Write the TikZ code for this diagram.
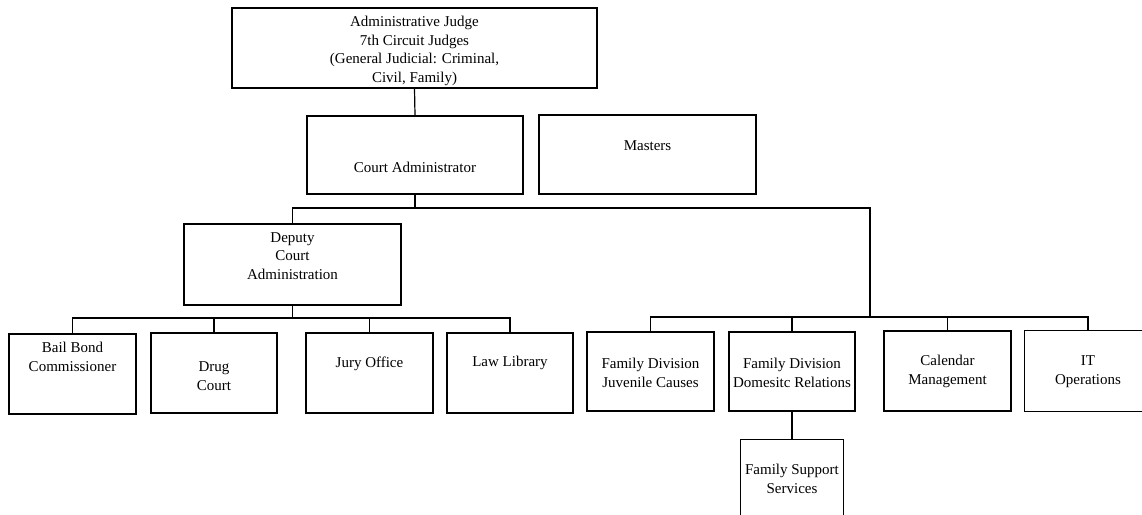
\documentclass[tikz,border=0pt]{standalone}
\usepackage{fontspec}
\setmainfont{Liberation Serif}
\tikzset{
  box/.style={draw, line width=1.2pt, inner sep=0pt, rectangle},
  openbox/.style={inner sep=0pt, rectangle},
  txt/.style={align=center, inner sep=0pt, font=\fontsize{15}{18.8}\selectfont},
  conn/.style={line width=1.2pt}
}
\begin{document}
\begin{tikzpicture}[x=1pt,y=-1pt]
\useasboundingbox (0,0) rectangle (1142,514);
% boxes
\node[box, minimum width=365pt, minimum height=80pt] (top) at (414.5,48) {};
\node[box, minimum width=216pt, minimum height=78pt] (ca) at (415,155) {};
\node[box, minimum width=217pt, minimum height=79pt] (masters) at (647.5,154.5) {};
\node[box, minimum width=217pt, minimum height=81pt] (deputy) at (292.5,264.5) {};
\node[box, minimum width=127pt, minimum height=80pt] (bail) at (72.5,374) {};
\node[box, minimum width=126pt, minimum height=80pt] (drug) at (214,373) {};
\node[box, minimum width=127pt, minimum height=80pt] (jury) at (369.5,373) {};
\node[box, minimum width=126pt, minimum height=80pt] (law) at (510,373) {};
\node[box, minimum width=127pt, minimum height=79pt] (juv) at (650.5,371.5) {};
\node[box, minimum width=126pt, minimum height=79pt] (dom) at (792,371.5) {};
\node[box, minimum width=127pt, minimum height=80pt] (cal) at (947.5,371) {};
\node[openbox, minimum width=117pt, minimum height=80pt] (it) at (1083.5,371) {};
\draw[conn] (it.north east) -- (it.north west) -- (it.south west) -- (it.south east);
\node[openbox, minimum width=102pt, minimum height=76pt] (fss) at (792,478) {};
\draw[conn] (fss.south west) -- (fss.north west) -- (fss.north east) -- (fss.south east);
% texts
\node[txt] (topt) at (414.5,51) {Administrative Judge\\7th Circuit Judges\\(General Judicial: Criminal,\\Civil, Family)};
\node[txt] (cat) at (415,167) {Court Administrator};
\node[txt] (masterst) at (647.5,146) {Masters};
\node[txt] (deputyt) at (292.5,256) {Deputy\\Court\\Administration};
\node[txt] (bailt) at (72.5,356.5) {Bail Bond\\Commissioner};
\node[txt] (drugt) at (214,376) {Drug\\Court};
\node[txt] (juryt) at (369.5,364) {Jury Office};
\node[txt] (lawt) at (510,363) {Law Library};
\node[txt] (juvt) at (650.5,373) {Family Division\\Juvenile Causes};
\node[txt] (domt) at (792,372.5) {Family Division\\Domesitc Relations};
\node[txt] (calt) at (947.5,371.5) {Calendar\\Management};
\node[txt] (itt) at (1088,371.5) {IT\\Operations};
\node[txt] (fsst) at (792,479) {Family Support\\Services};
% bus coordinates
\coordinate (busA) at (415,208);
\coordinate (busAR) at (870,208);
\coordinate (busR) at (870,317);
\coordinate (itb) at (1088,317);
\coordinate (lb) at (292.5,318);
% connectors
\draw[conn] (top.south) -- (ca.north);
\draw[conn] (ca.south) -- (busA);
\draw[conn] (deputy.north) |- (busAR) -- (busR);
\draw[conn] (juv.north) |- (itb) -- (itb |- it.north);
\draw[conn] (dom.north) -- (dom.north |- itb);
\draw[conn] (cal.north) -- (cal.north |- itb);
\draw[conn] (deputy.south) -- (lb);
\draw[conn] (bail.north) |- (law.north |- lb) -- (law.north);
\draw[conn] (drug.north) -- (drug.north |- lb);
\draw[conn] (jury.north) -- (jury.north |- lb);
\draw[conn] (dom.south) -- (fss.north);
\end{tikzpicture}
\end{document}
